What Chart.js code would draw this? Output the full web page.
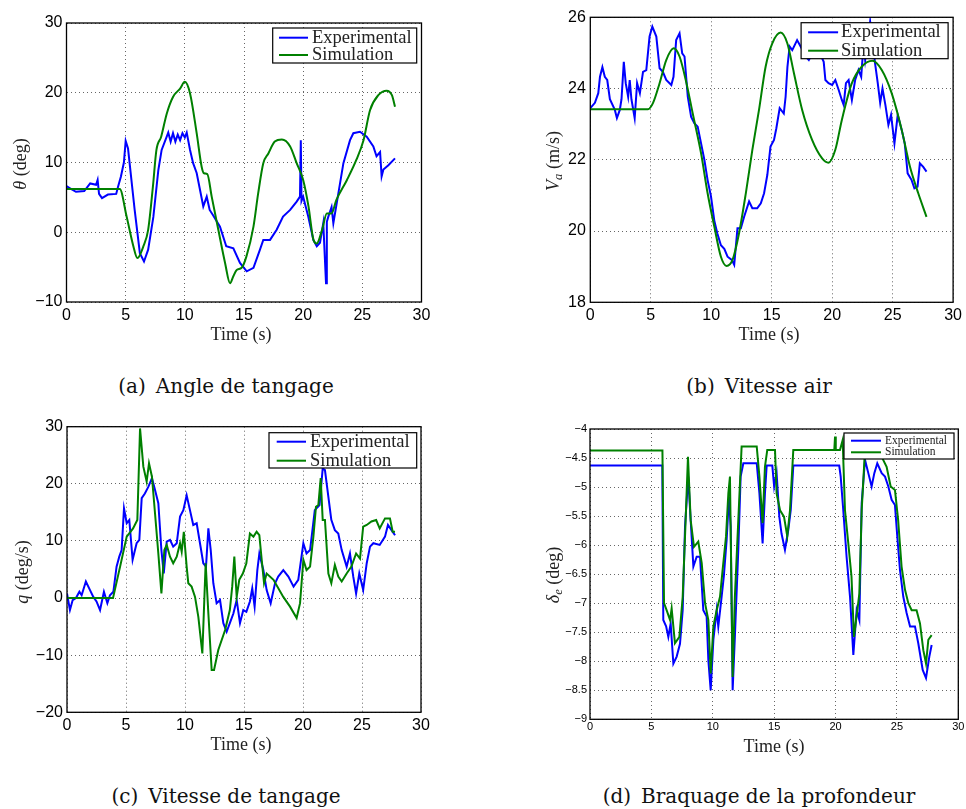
<!DOCTYPE html>
<html>
<head>
<meta charset="utf-8">
<script src="https://cdn.jsdelivr.net/npm/chart.js@4.4.1/dist/chart.umd.min.js"></script>
<style>
body{margin:0;background:#fff;width:966px;height:809px;position:relative;overflow:hidden;}
.plot{position:absolute;}
.lbl{position:absolute;font-family:"Liberation Serif",serif;font-size:18px;color:#222;white-space:nowrap;transform:translate(-50%,-50%);}
.ylbl{transform:translate(-50%,-50%) rotate(-90deg);}
.cap{position:absolute;font-family:"DejaVu Serif",serif;font-size:20px;color:#111;white-space:nowrap;transform:translate(-50%,-50%);}
.cap span{margin-right:10px;}
sub{font-size:70%;vertical-align:-3px;line-height:0;}
</style>
</head>
<body>

<div class="plot" style="left:0;top:0"><canvas id="grafTheta" width="440" height="340"></canvas></div>
<div class="plot" style="left:520px;top:0"><canvas id="grafVa" width="446" height="340"></canvas></div>
<div class="plot" style="left:0;top:410px"><canvas id="grafQ" width="440" height="340"></canvas></div>
<div class="plot" style="left:520px;top:410px"><canvas id="grafDelta" width="446" height="340"></canvas></div>

<div class="lbl ylbl" style="left:20px;top:164px"><i>θ</i> (deg)</div>
<div class="lbl ylbl" style="left:553px;top:161px"><i>V<sub>a</sub></i> (m/s)</div>
<div class="lbl ylbl" style="left:22px;top:572px"><i>q</i> (deg/s)</div>
<div class="lbl ylbl" style="left:553px;top:575px"><i>δ<sub>e</sub></i> (deg)</div>

<div class="lbl" style="left:241px;top:334px">Time (s)</div>
<div class="lbl" style="left:769px;top:334px">Time (s)</div>
<div class="lbl" style="left:241px;top:744px">Time (s)</div>
<div class="lbl" style="left:774px;top:746px">Time (s)</div>

<div class="cap" style="left:226px;top:386px"><span>(a)</span>Angle de tangage</div>
<div class="cap" style="left:759px;top:386px"><span>(b)</span>Vitesse air</div>
<div class="cap" style="left:226px;top:796px"><span>(c)</span>Vitesse de tangage</div>
<div class="cap" style="left:759px;top:796px"><span>(d)</span>Braquage de la profondeur</div>

<script>
// [temps (s), valeur]
var thetaExp = [[0,6.6],[0.3,6.3],[0.8,5.8],[1.5,5.9],[2.0,7.0],[2.5,6.8],[2.63,7.5],[2.75,5.5],[3.0,4.9],[3.5,5.4],[4.2,5.5],[4.35,6.5],[4.6,8.0],[4.85,10.0],[5.0,13.1],[5.2,12.0],[5.76,3.2],[6.2,-3.0],[6.55,-4.2],[6.9,-2.5],[7.34,2.2],[7.76,8.9],[8.04,11.8],[8.47,13.7],[8.6,14.3],[8.8,13.0],[9.0,14.2],[9.2,13.0],[9.4,14.0],[9.6,13.2],[9.8,14.2],[10.0,13.6],[10.16,14.3],[10.44,11.8],[10.7,9.9],[11.0,8.5],[11.28,6.1],[11.56,3.7],[11.85,5.1],[12.1,3.2],[12.4,2.4],[12.97,0.8],[13.5,-2.0],[14.1,-2.3],[14.66,-4.4],[15.23,-5.6],[15.8,-5.1],[16.35,-2.5],[16.63,-1.1],[17.2,-1.1],[17.76,0.35],[18.3,2.25],[18.9,3.2],[19.45,4.4],[19.73,5.1],[19.8,13.2],[19.86,4.5],[20.0,5.1],[20.43,2.25],[20.86,-1.1],[21.15,-2.0],[21.42,-1.5],[21.7,1.3],[21.93,-7.3],[22.0,1.5],[22.12,2.2],[22.4,3.6],[22.55,1.3],[22.84,4.2],[23.4,9.9],[23.96,13.2],[24.24,14.2],[24.8,14.4],[25.37,13.7],[25.93,12.3],[26.2,10.9],[26.5,11.5],[26.63,8.0],[26.78,9.0],[27.2,9.6],[27.76,10.6]];
var thetaSim = [[0,6.2],[4.5,6.2],[5.08,2.25],[5.65,-2.0],[5.99,-3.7],[6.5,-2.0],[6.9,0.35],[7.3,6.5],[7.6,11.8],[8.0,13.7],[8.47,17.0],[9.0,19.4],[9.6,20.6],[10.0,21.56],[10.44,19.9],[11.0,14.2],[11.42,9.4],[11.62,8.45],[11.9,8.35],[12.27,5.1],[12.83,0.35],[13.4,-4.4],[13.82,-7.3],[14.1,-6.3],[14.38,-5.4],[14.8,-5.1],[15.2,-3.5],[15.8,0.8],[16.2,5.6],[16.63,9.9],[17.06,11.3],[17.6,13.0],[18.2,13.3],[18.9,12.3],[19.45,9.9],[20.0,7.5],[20.45,3.7],[20.87,-1.1],[21.15,-1.6],[21.6,0.35],[22.0,2.7],[22.4,2.7],[22.8,4.6],[23.7,7.5],[24.5,10.4],[25.1,13.2],[25.65,17.5],[26.35,19.65],[27.05,20.3],[27.5,19.65],[27.76,18.0]];

var vaExp = [[0,23.45],[0.38,23.6],[0.66,23.87],[0.8,24.33],[1.0,24.6],[1.2,24.33],[1.4,24.24],[1.62,23.7],[2.03,23.4],[2.2,23.17],[2.44,23.4],[2.58,23.7],[2.77,24.75],[2.93,24.15],[3.13,23.77],[3.26,24.24],[3.4,23.7],[3.67,23.17],[3.87,24.15],[4.1,23.87],[4.36,24.47],[4.63,24.52],[4.9,25.46],[5.13,25.74],[5.46,25.46],[5.73,24.57],[6.0,24.47],[6.28,24.24],[6.7,24.1],[6.88,24.33],[7.1,25.36],[7.38,25.55],[7.6,24.99],[7.79,24.9],[8.06,23.77],[8.34,23.2],[8.6,23.03],[8.88,22.93],[9.16,22.46],[9.43,22.0],[9.7,21.43],[9.98,20.97],[10.25,20.3],[10.5,19.94],[10.8,19.6],[11.08,19.5],[11.35,19.28],[11.7,19.19],[11.9,19.05],[12.17,20.08],[12.45,20.08],[12.72,20.4],[13.13,20.83],[13.4,20.64],[13.8,20.64],[14.1,20.78],[14.37,21.06],[14.64,21.58],[14.9,22.37],[15.19,22.56],[15.38,22.88],[15.66,23.45],[16.0,23.3],[16.15,23.77],[16.3,24.6],[16.48,25.18],[16.7,25.08],[17.1,25.36],[17.47,25.13],[17.8,24.9],[18.07,24.8],[18.7,25.2],[19.3,24.75],[19.44,24.24],[19.7,24.15],[20.0,24.1],[20.26,24.24],[20.54,23.96],[20.8,23.68],[20.95,23.54],[21.14,24.15],[21.36,24.24],[21.63,23.68],[21.9,24.24],[22.18,24.52],[22.4,24.33],[22.6,25.27],[22.73,24.8],[23.14,25.88],[23.55,24.7],[23.77,24.15],[23.97,23.6],[24.16,24.0],[24.4,23.54],[24.65,22.98],[24.87,23.26],[25.15,22.46],[25.42,23.26],[25.75,22.84],[26.0,22.46],[26.24,21.62],[26.57,21.43],[26.8,21.2],[27.06,21.25],[27.25,21.9],[27.53,21.8],[27.8,21.67]];
var vaSim = [[0,23.42],[4.77,23.42],[5.18,23.59],[5.73,24.15],[6.28,24.8],[6.9,25.13],[7.38,24.9],[7.92,24.2],[8.47,23.3],[9.16,22.18],[9.7,21.06],[10.25,20.13],[10.8,19.28],[11.27,19.02],[11.76,19.19],[12.3,19.94],[12.86,21.06],[13.4,22.28],[13.95,23.4],[14.5,24.62],[15.05,25.27],[15.74,25.57],[16.29,25.27],[16.84,24.43],[17.52,23.4],[18.34,22.56],[19.17,22.04],[19.7,21.92],[20.26,22.28],[20.8,23.12],[21.63,24.15],[22.46,24.62],[23.33,24.78],[24.1,24.52],[24.92,23.87],[25.75,22.84],[26.43,21.81],[27.12,21.06],[27.8,20.4]];

var qExp = [[0,0.8],[0.25,-2.1],[0.48,-0.35],[0.76,0],[1.05,1.1],[1.24,0.5],[1.6,2.9],[1.95,1.4],[2.23,0.2],[2.5,-0.6],[2.8,-2.1],[3.13,1.1],[3.42,-0.9],[3.64,0.5],[3.93,1.1],[4.2,5.5],[4.43,7.25],[4.63,8.4],[4.83,15.7],[5.06,13.1],[5.28,13.66],[5.56,6.7],[5.9,9.6],[6.13,10.2],[6.33,17.5],[6.6,18.3],[6.9,19.5],[7.2,21.0],[7.46,18.9],[7.74,16.6],[8.0,8.4],[8.2,4.3],[8.45,9.9],[8.73,10.2],[9.0,9.0],[9.3,9.6],[9.58,14.25],[9.86,15.4],[10.14,18.0],[10.42,15.4],[10.7,12.8],[10.99,13.1],[11.27,9.6],[11.55,6.1],[11.78,5.5],[11.98,12.2],[12.18,8.4],[12.4,2.6],[12.68,-0.9],[12.97,-0.35],[13.25,-4.4],[13.53,-5.9],[13.8,-4.4],[14.1,-2.7],[14.38,-0.35],[14.66,-4.4],[14.94,-2.1],[15.2,-2.4],[15.5,-0.6],[15.7,1.7],[15.9,-1.5],[16.13,4.9],[16.3,7.8],[16.64,4.9],[16.92,1.4],[17.26,-0.9],[17.63,2.6],[17.9,3.75],[18.33,4.9],[18.76,3.75],[19.2,2.0],[19.6,3.2],[20.03,9.6],[20.3,7.8],[20.6,8.4],[21.0,15.4],[21.4,16.3],[21.67,22.7],[21.86,22.4],[22.15,17.7],[22.4,13.7],[22.7,11.9],[22.99,11.3],[23.28,8.4],[23.7,5.5],[23.98,7.8],[24.26,3.75],[24.5,0.8],[24.77,4.3],[25.1,1.4],[25.4,6.1],[25.68,9.0],[25.96,9.6],[26.5,9.3],[26.95,10.75],[27.2,12.8],[27.5,11.9],[27.8,11.0]];
var qSim = [[0,0],[3.9,0],[4.5,5.5],[5.06,10.75],[5.6,12.2],[5.96,13.66],[6.19,29.7],[6.47,23.0],[6.75,20.4],[6.95,23.6],[7.2,21.25],[7.46,14.8],[7.74,7.8],[8.0,0.8],[8.25,8.4],[8.45,9.3],[8.73,7.25],[9.0,6.1],[9.3,7.25],[9.58,9.6],[9.72,8.1],[9.9,11.6],[10.14,5.5],[10.28,2.6],[10.56,2.0],[10.85,0.2],[11.13,-3.3],[11.47,-9.7],[11.75,6.1],[11.98,-2.7],[12.26,-12.6],[12.46,-12.6],[12.82,-9.1],[13.4,-5.6],[13.8,-2.1],[14.0,2.0],[14.18,7.25],[14.38,0.2],[14.6,3.2],[14.9,4.3],[15.2,6.1],[15.5,11.3],[15.8,10.75],[16.07,11.6],[16.3,11.0],[16.5,6.7],[16.7,2.6],[16.92,4.3],[17.5,3.2],[18.33,0.2],[18.9,-1.5],[19.46,-3.5],[19.75,-0.9],[20.03,6.7],[20.3,4.9],[20.6,5.5],[20.88,10.75],[21.1,16.0],[21.3,16.3],[21.5,21.0],[21.67,13.66],[21.86,13.66],[22.15,4.3],[22.4,2.6],[22.7,5.8],[22.99,3.75],[23.28,2.9],[23.7,4.3],[24.1,5.5],[24.5,7.8],[24.83,6.9],[25.1,12.5],[25.4,12.8],[25.8,13.4],[26.2,13.66],[26.5,12.2],[26.95,13.95],[27.37,13.95],[27.6,11.6],[27.8,11.6]];

var deltaExp = [[0,-4.63],[5.89,-4.63],[5.97,-7.29],[6.2,-7.4],[6.38,-7.58],[6.57,-7.35],[6.79,-8.04],[7.06,-7.92],[7.33,-7.7],[7.55,-7.12],[7.74,-5.68],[8.0,-4.82],[8.2,-5.57],[8.42,-6.37],[8.69,-6.2],[8.96,-6.2],[9.23,-7.12],[9.5,-7.23],[9.64,-7.98],[9.83,-8.5],[10.05,-7.63],[10.32,-7.12],[10.45,-7.4],[10.72,-6.89],[10.9,-6.54],[11.13,-5.91],[11.32,-5.17],[11.46,-5.68],[11.62,-8.5],[11.8,-7.58],[12.08,-6.08],[12.27,-4.82],[12.49,-4.59],[13.58,-4.59],[13.8,-5.11],[14.06,-5.97],[14.25,-5.11],[14.39,-4.63],[14.85,-4.63],[15.0,-4.99],[15.2,-4.76],[15.42,-5.51],[15.6,-5.8],[15.88,-6.08],[16.15,-5.74],[16.35,-5.4],[16.56,-4.63],[20.3,-4.63],[20.42,-4.82],[20.63,-5.4],[20.9,-6.2],[21.18,-6.89],[21.45,-7.89],[21.72,-7.12],[21.94,-7.29],[22.13,-5.28],[22.4,-4.53],[22.67,-4.76],[22.94,-4.99],[23.16,-4.76],[23.4,-4.59],[23.76,-4.76],[24.03,-4.82],[24.3,-4.99],[24.57,-5.22],[24.84,-5.31],[25.03,-5.85],[25.25,-6.43],[25.52,-6.89],[25.79,-7.17],[26.07,-7.4],[26.47,-7.4],[26.74,-7.69],[27.1,-8.15],[27.37,-8.29],[27.64,-7.92],[27.83,-7.72]];
var deltaSim = [[0,-4.37],[5.9,-4.37],[6.03,-7.0],[6.24,-7.12],[6.52,-7.29],[6.65,-7.09],[6.92,-7.69],[7.28,-7.58],[7.55,-6.89],[7.79,-5.57],[7.98,-4.48],[8.2,-5.57],[8.47,-6.03],[8.82,-5.94],[9.1,-6.31],[9.37,-7.0],[9.64,-7.29],[9.83,-8.21],[10.05,-7.4],[10.32,-7.12],[10.59,-6.89],[10.8,-6.43],[11.08,-5.85],[11.27,-5.11],[11.4,-4.82],[11.62,-8.27],[11.8,-6.89],[12.08,-5.57],[12.35,-4.3],[13.58,-4.3],[13.8,-4.82],[14.06,-5.62],[14.25,-4.65],[14.44,-4.36],[15.07,-4.36],[15.2,-5.11],[15.48,-5.4],[15.8,-5.51],[16.07,-5.85],[16.29,-5.4],[16.56,-4.36],[19.9,-4.36],[19.96,-4.13],[20.02,-4.36],[20.36,-4.36],[20.58,-4.19],[20.77,-5.4],[21.04,-5.97],[21.3,-6.54],[21.5,-7.58],[21.78,-7.12],[21.94,-6.83],[22.13,-5.4],[22.4,-4.36],[23.08,-4.36],[23.62,-4.42],[24.16,-4.65],[24.49,-4.99],[24.84,-5.05],[25.1,-5.57],[25.38,-6.37],[25.66,-6.77],[25.93,-7.0],[26.2,-7.12],[26.6,-7.12],[26.88,-7.35],[27.15,-7.81],[27.37,-8.04],[27.56,-7.63],[27.83,-7.55]];

var xTicks = {min: 0, max: 30, step: 5};

// cadre noir + legende encadree
var cadre = {
    id: "cadre",
    afterDatasetsDraw: function(chart, args, o){
        var ctx = chart.ctx, a = chart.chartArea;
        ctx.save();
        ctx.strokeStyle = "#000";
        ctx.lineWidth = 1.3;
        ctx.strokeRect(a.left, a.top, a.right - a.left, a.bottom - a.top);
        var x0 = a.right - o.droite - o.w, y0 = a.top + o.haut;
        ctx.fillStyle = "#fff";
        ctx.fillRect(x0, y0, o.w, o.h);
        ctx.lineWidth = 1.2;
        ctx.strokeRect(x0, y0, o.w, o.h);
        ctx.font = o.fs + 'px "Liberation Serif"';
        ctx.textBaseline = "middle";
        chart.data.datasets.forEach(function(ds, i){
            var y = y0 + o.lignes[i];
            ctx.strokeStyle = ds.borderColor;
            ctx.lineWidth = 2;
            ctx.beginPath();
            ctx.moveTo(x0 + o.trait, y);
            ctx.lineTo(x0 + o.trait + o.long, y);
            ctx.stroke();
            ctx.fillStyle = "#222";
            ctx.fillText(ds.label, x0 + o.texte, y);
        });
        ctx.restore();
    }
};

function toPts(arr){
    return arr.map(function(p){ return {x: p[0], y: p[1]}; });
}

function moins(v){
    return String(Number(v.toFixed(1))).replace("-", "\u2212");
}

function grafica(id, exp, sim, y, c){
    var miCanvas = document.getElementById(id).getContext("2d");
    return new Chart(miCanvas, {
        type: "line",
        data: {
            datasets: [{
                label: "Experimental",
                data: toPts(exp),
                borderColor: "#0000ff",
                backgroundColor: "#0000ff",
                borderWidth: 2,
                pointRadius: 0,
                order: 2,
                fill: false
            }, {
                label: "Simulation",
                data: toPts(sim),
                borderColor: "#008000",
                backgroundColor: "#008000",
                borderWidth: 2,
                pointRadius: 0,
                order: 1,
                cubicInterpolationMode: c.lisse ? "monotone" : "default",
                fill: false
            }]
        },
        options: {
            responsive: false,
            animation: false,
            devicePixelRatio: 1,
            layout: {padding: {top: c.padTop, right: c.padRight, left: 0, bottom: 0}},
            plugins: {
                legend: {display: false},
                tooltip: {enabled: false},
                cadre: c.leg
            },
            scales: {
                x: {
                    type: "linear",
                    min: xTicks.min, max: xTicks.max,
                    afterFit: function(s){ s.height = c.xH; },
                    ticks: {stepSize: xTicks.step, padding: c.xPad, color: "#000",
                        font: {family: "Liberation Sans", size: c.fs}, maxRotation: 0,
                        callback: function(v){ return moins(v); }},
                    grid: {color: "rgba(0,0,0,0.6)", lineWidth: 1, drawTicks: false},
                    border: {display: false, dash: [1, 3]}
                },
                y: {
                    min: y.min, max: y.max,
                    afterFit: function(s){ s.width = c.yW; },
                    ticks: {stepSize: y.step, padding: c.yPad, color: "#000",
                        font: {family: "Liberation Sans", size: c.fs},
                        callback: function(v){ return moins(v); }},
                    grid: {color: "rgba(0,0,0,0.6)", lineWidth: 1, drawTicks: false},
                    border: {display: false, dash: [1, 3]}
                }
            }
        },
        plugins: [cadre]
    });
}

document.addEventListener("DOMContentLoaded", function(){
    grafica("grafTheta", thetaExp, thetaSim, {min: -10, max: 30, step: 10},
        {padTop: 23, padRight: 18.5, yW: 66.5, xH: 38, fs: 16, xPad: 4, yPad: 4, lisse: true,
         leg: {w: 144, h: 35, droite: 4.8, haut: 5, trait: 6.3, long: 29, texte: 39.3, lignes: [9.7, 27], fs: 18.5}});
    grafica("grafVa", vaExp, vaSim, {min: 18, max: 26, step: 2},
        {padTop: 17.3, padRight: 11, yW: 70.3, xH: 37.7, fs: 16, xPad: 4, yPad: 4.5, lisse: true,
         leg: {w: 147, h: 36, droite: 5, haut: 5.4, trait: 7, long: 30, texte: 40, lignes: [9.6, 28], fs: 18.5}});
    grafica("grafQ", qExp, qSim, {min: -20, max: 30, step: 10},
        {padTop: 16.7, padRight: 19, yW: 67, xH: 37.7, fs: 16, xPad: 4, yPad: 4, lisse: false,
         leg: {w: 147.7, h: 35.3, droite: 4.3, haut: 6, trait: 7.7, long: 29.3, texte: 41, lignes: [9, 28], fs: 18.5}});
    grafica("grafDelta", deltaExp, deltaSim, {min: -9, max: -4, step: 0.5},
        {padTop: 19, padRight: 7.7, yW: 70, xH: 30.7, fs: 11, xPad: 1, yPad: 3, lisse: false,
         leg: {w: 110, h: 26, droite: 4.3, haut: 4, trait: 7, long: 30, texte: 41, lignes: [7.7, 19.3], fs: 11.5}});
});
</script>
</body>
</html>
